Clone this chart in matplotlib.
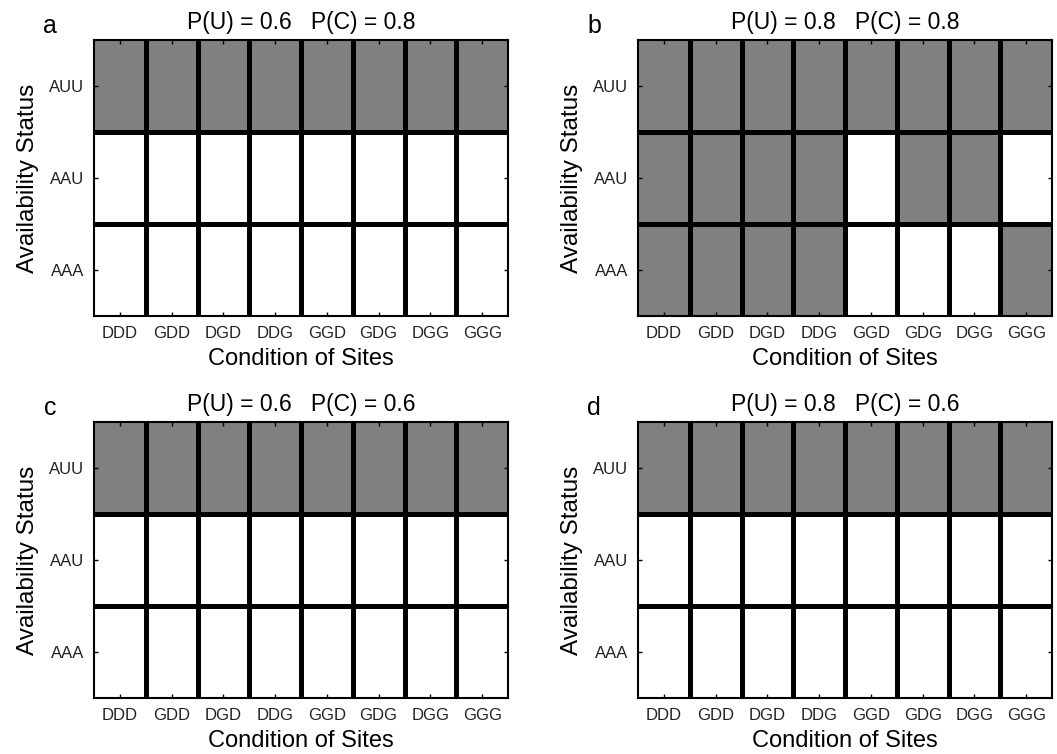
import numpy as np
import matplotlib
matplotlib.use("Agg")
import matplotlib.pyplot as plt
from matplotlib.colors import ListedColormap

plt.rcParams['font.family'] = ['Liberation Sans', 'DejaVu Sans']

sites = ['DDD', 'GDD', 'DGD', 'DDG', 'GGD', 'GDG', 'DGG', 'GGG']
status = ['AUU', 'AAU', 'AAA']
letters = ['a', 'b', 'c', 'd']
p_u = [0.6, 0.8, 0.6, 0.8]
p_c = [0.8, 0.8, 0.6, 0.6]

# 1 = shaded cell, rows follow the order of `status`
grid_a = [[1, 1, 1, 1, 1, 1, 1, 1],
          [0, 0, 0, 0, 0, 0, 0, 0],
          [0, 0, 0, 0, 0, 0, 0, 0]]
grid_b = [[1, 1, 1, 1, 1, 1, 1, 1],
          [1, 1, 1, 1, 0, 1, 1, 0],
          [1, 1, 1, 1, 0, 0, 0, 1]]
grid_c = [[1, 1, 1, 1, 1, 1, 1, 1],
          [0, 0, 0, 0, 0, 0, 0, 0],
          [0, 0, 0, 0, 0, 0, 0, 0]]
grid_d = [[1, 1, 1, 1, 1, 1, 1, 1],
          [0, 0, 0, 0, 0, 0, 0, 0],
          [0, 0, 0, 0, 0, 0, 0, 0]]
grids = [grid_a, grid_b, grid_c, grid_d]

cmap = ListedColormap(['white', '#808080'])

fig = plt.figure(figsize=(10.57, 7.54), dpi=100)
W, H = 1057, 754
boxes = [(94, 40), (638, 40), (94, 422), (638, 422)]  # left, top in pixels
aw, ah = 414, 276

for i in range(4):
    left, top = boxes[i]
    ax = fig.add_axes([left / W, 1 - (top + ah) / H, aw / W, ah / H])
    g = np.array(grids[i])
    ax.pcolormesh(np.arange(len(sites) + 1), np.arange(len(status) + 1),
                  g, cmap=cmap, vmin=0, vmax=1)
    ax.set_xlim(0, len(sites))
    ax.set_ylim(len(status), 0)
    for x in range(1, len(sites)):
        ax.axvline(x, color='black', lw=3.6)
    for y in range(1, len(status)):
        ax.axhline(y, color='black', lw=3.6)

    ax.set_xticks(np.arange(len(sites)) + 0.5)
    ax.set_xticklabels(sites)
    ax.set_yticks(np.arange(len(status)) + 0.5)
    ax.set_yticklabels(status)
    ax.tick_params(direction='in', length=3, width=1, top=True, right=True,
                   labelsize=12, labelcolor='#222222', pad=7)
    for s in ax.spines.values():
        s.set_linewidth(1.5)

    ax.set_xlabel('Condition of Sites', fontsize=17, labelpad=5)
    ax.set_ylabel('Availability Status', fontsize=17.5, labelpad=7)
    ax.set_title('P(U) = %.1f   P(C) = %.1f' % (p_u[i], p_c[i]),
                 fontsize=16.5, pad=8)
    fig.text((left - 44) / W, 1 - (top - 14) / H, letters[i],
             fontsize=18, ha='center', va='center')

fig.savefig('out.png', dpi=100)
